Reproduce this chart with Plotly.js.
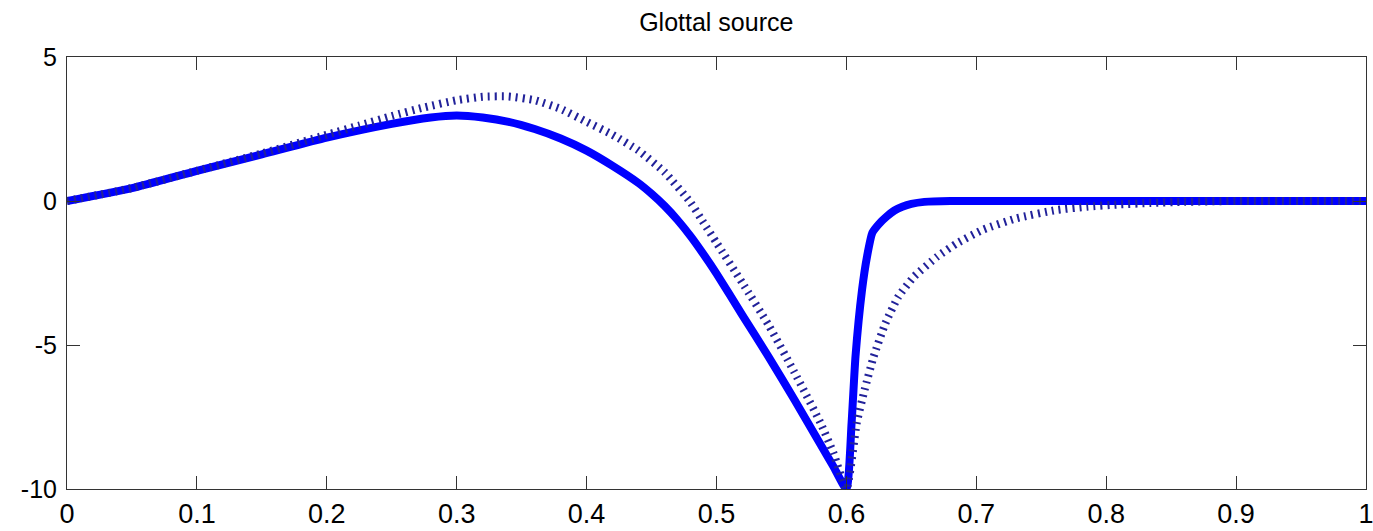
<!DOCTYPE html>
<html>
<head>
<meta charset="utf-8">
<script src="https://cdn.plot.ly/plotly-3.0.1.min.js"></script>
<style>html,body{margin:0;padding:0;background:#fff;}#chart{width:1373px;height:531px;}</style>
</head>
<body>
<div id="chart"></div>
<script>
// Solid curve (glottal source)
var solidX = [0, 0.05, 0.1, 0.15, 0.2, 0.25, 0.28, 0.3, 0.32, 0.34, 0.36, 0.38, 0.4, 0.42, 0.44, 0.45, 0.46, 0.47, 0.48, 0.49, 0.5, 0.52, 0.54, 0.56, 0.58, 0.59, 0.6,
              0.604, 0.607, 0.612, 0.616, 0.62, 0.625, 0.631, 0.637, 0.643, 0.65, 0.66, 0.68, 0.75, 0.85, 1.0];
var solidY = [0, 0.45, 1.05, 1.62, 2.2, 2.68, 2.9, 2.97, 2.9, 2.75, 2.5, 2.17, 1.75, 1.22, 0.62, 0.25, -0.17, -0.66, -1.22, -1.85, -2.52, -3.97, -5.4, -6.9, -8.45, -9.22, -10,
              -7.7, -5.4, -3.1, -1.9, -1.1, -0.8, -0.54, -0.33, -0.2, -0.1, -0.03, 0, 0, 0, 0];

// Dotted curve
var dotX = [0, 0.05, 0.1, 0.15, 0.2, 0.225, 0.25, 0.275, 0.3, 0.32, 0.34, 0.36, 0.38, 0.4, 0.42, 0.44, 0.46, 0.48, 0.49, 0.5, 0.52, 0.54, 0.56, 0.58, 0.59, 0.6,
            0.608, 0.614, 0.621, 0.63, 0.64, 0.652, 0.67, 0.685, 0.705, 0.731, 0.762, 0.785, 0.81, 0.834, 0.86, 0.9, 1.0];
var dotY = [0, 0.45, 1.05, 1.65, 2.3, 2.62, 2.95, 3.25, 3.5, 3.62, 3.63, 3.5, 3.2, 2.75, 2.3, 1.75, 1.0, -0.05, -0.75, -1.45, -2.85, -4.3, -5.95, -7.7, -8.75, -10,
            -7.7, -6.56, -5.4, -4.25, -3.32, -2.63, -1.93, -1.47, -1.0, -0.6, -0.31, -0.2, -0.12, -0.07, -0.03, 0, 0];

var xTicks = [0, 0.1, 0.2, 0.3, 0.4, 0.5, 0.6, 0.7, 0.8, 0.9, 1];
var xTickText = ['0', '0.1', '0.2', '0.3', '0.4', '0.5', '0.6', '0.7', '0.8', '0.9', '1'];
var yTicks = [-10, -5, 0, 5];
var yTickText = ['-10', '-5', '0', '5'];

var traces = [
  {x: solidX, y: solidY, mode: 'lines', type: 'scatter',
   line: {color: '#0000ff', width: 8, shape: 'spline', smoothing: 0.5}, hoverinfo: 'skip'},
  {x: dotX, y: dotY, mode: 'lines', type: 'scatter',
   line: {color: '#22229a', width: 8, dash: '2px,5px', shape: 'spline', smoothing: 0.5}, hoverinfo: 'skip'}
];

var axisCommon = {
  showgrid: false, zeroline: false, showline: true, linecolor: '#333', linewidth: 1,
  mirror: 'ticks', ticks: 'inside', ticklen: 13, tickwidth: 1, tickcolor: '#333',
  ticklabeloverflow: 'allow'
};

var layout = {
  width: 1373, height: 531,
  margin: {l: 67, r: 7, t: 57, b: 42},
  paper_bgcolor: '#fff', plot_bgcolor: '#fff',
  showlegend: false,
  title: {text: 'Glottal source', font: {family: 'Liberation Sans, Arial, sans-serif', size: 25, color: '#000'},
          x: 0.5217, xanchor: 'center', y: 1 - 22/531, yanchor: 'middle', yref: 'container', xref: 'container'},
  xaxis: Object.assign({}, axisCommon, {range: [0, 1], tickvals: xTicks, ticktext: xTickText,
          tickfont: {family: 'Liberation Sans, Arial, sans-serif', size: 27, color: '#000'}, ticklabelstandoff: 1}),
  yaxis: Object.assign({}, axisCommon, {range: [-10, 5], tickvals: yTicks, ticktext: yTickText,
          tickfont: {family: 'Liberation Sans, Arial, sans-serif', size: 25, color: '#000'}, ticklabelstandoff: 4})
};

Plotly.newPlot('chart', traces, layout, {displayModeBar: false, staticPlot: true});
</script>
</body>
</html>
